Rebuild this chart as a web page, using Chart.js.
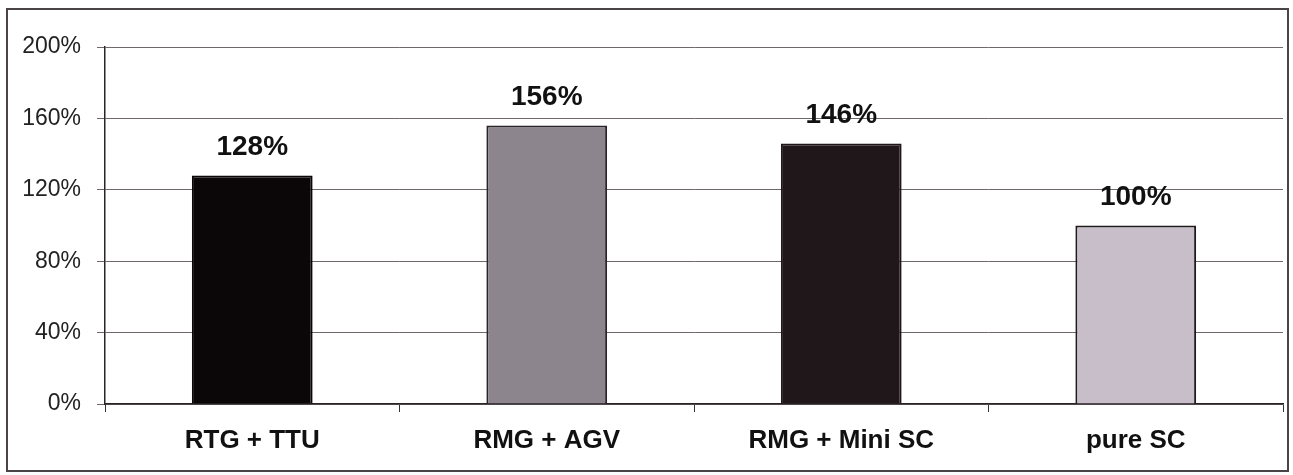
<!DOCTYPE html>
<html>
<head>
<meta charset="utf-8">
<script src="https://cdn.jsdelivr.net/npm/chart.js@4"></script>
<style>
  html, body { margin: 0; padding: 0; background: #fff; }
  #wrap { position: relative; width: 1293px; height: 475px; }
  #frame { position: absolute; left: 6px; top: 8px; width: 1279px; height: 460px; border: 2px solid #4a4448; pointer-events: none; }
</style>
</head>
<body>
<div id="wrap">
  <canvas id="costChart" width="1293" height="475"></canvas>
  <div id="frame"></div>
</div>
<script>
const categories = ['RTG + TTU', 'RMG + AGV', 'RMG + Mini SC', 'pure SC'];
const values = [128, 156, 146, 100];
const barColors = ['#0b0608', '#8d858e', '#1f1719', '#c8bec9'];
const barBorders = ['#0b0608', '#2a2428', '#1f1719', '#1e1a1c'];
const yTicks = [0, 40, 80, 120, 160, 200];

const fontFamily = '"Liberation Sans", Arial, Helvetica, sans-serif';

// values drawn above each bar
const valueLabels = {
  id: 'valueLabels',
  afterDatasetsDraw(chart) {
    const ctx = chart.ctx;
    const meta = chart.getDatasetMeta(0);
    ctx.save();
    ctx.font = 'bold 28px ' + fontFamily;
    ctx.fillStyle = '#111';
    ctx.textAlign = 'center';
    ctx.textBaseline = 'bottom';
    meta.data.forEach((bar, i) => {
      ctx.fillText(values[i] + '%', bar.x, bar.y - 14);
    });
    ctx.restore();
  }
};

new Chart(document.getElementById('costChart').getContext('2d'), {
  type: 'bar',
  plugins: [valueLabels],
  data: {
    labels: categories,
    datasets: [{
      data: values,
      backgroundColor: barColors,
      borderColor: barBorders,
      borderWidth: 2,
      barPercentage: 0.41,
      categoryPercentage: 1
    }]
  },
  options: {
    responsive: false,
    animation: false,
    layout: { padding: { left: 10, right: 10, top: 47, bottom: 0 } },
    plugins: { legend: { display: false }, tooltip: { enabled: false } },
    scales: {
      x: {
        afterFit: scale => { scale.height = 71; },
        grid: { drawOnChartArea: false, drawTicks: true, tickLength: 8, color: '#333', offset: true },
        border: { color: '#2a2428', width: 1.5 },
        ticks: {
          color: '#111',
          padding: 13,
          font: { family: fontFamily, size: 26, weight: 'bold' }
        }
      },
      y: {
        min: 0,
        max: 200,
        afterFit: scale => { scale.width = 95; },
        afterBuildTicks: scale => { scale.ticks = yTicks.map(v => ({ value: v })); },
        grid: { color: '#6e686c', lineWidth: 1, tickLength: 8 },
        border: { color: '#2a2428', width: 1.5 },
        ticks: {
          color: '#222',
          padding: 16,
          font: { family: fontFamily, size: 23 },
          callback: v => v + '%'
        }
      }
    }
  }
});
</script>
</body>
</html>
